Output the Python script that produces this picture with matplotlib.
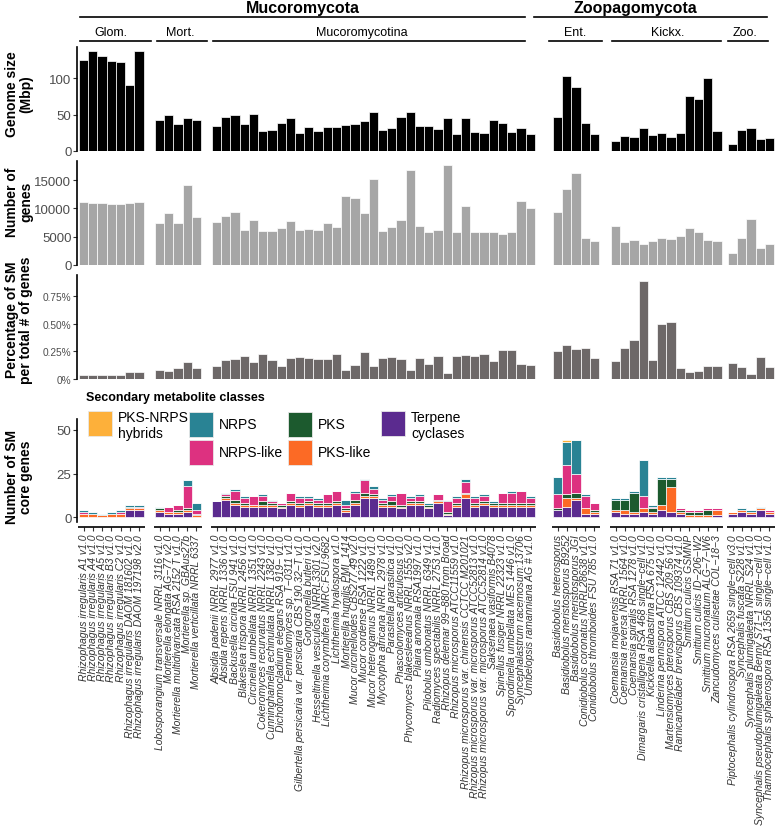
import matplotlib
matplotlib.use("Agg")
import matplotlib.pyplot as plt
from matplotlib.lines import Line2D
from matplotlib.patches import Rectangle
import numpy as np

plt.rcParams["font.family"] = ["Liberation Sans", "DejaVu Sans"]

# ---- data -------------------------------------------------------------
groups = ["Glom.", "Mort.", "Mucoromycotina", "Ent.", "Kickx.", "Zoo."]
group_sizes = [7, 5, 35, 5, 12, 5]
phyla = ["Mucoromycota", "Zoopagomycota"]

species = [
    # Glom.
    "Rhizophagus irregularis A1 v1.0", "Rhizophagus irregularis A4 v1.0",
    "Rhizophagus irregularis A5 v1.0", "Rhizophagus irregularis B3 v1.0",
    "Rhizophagus irregularis C2 v1.0", "Rhizophagus irregularis DAOM 181602 v1.0",
    "Rhizophagus irregularis DAOM 197198 v2.0",
    # Mort.
    "Lobosporangium transversale NRRL 3116 v1.0", "Mortierella elongata AG\u221277 v2.0",
    "Mortierella multidivaricata RSA 2152 T v1.0", "Mortierella sp. GBAus27b",
    "Mortierella verticillata NRRL 6337",
    # Mucoromycotina
    "Absidia padenii NRRL 2977 v1.0", "Absidia repens NRRL 1336 v1.0",
    "Backusella circina FSU 941 v1.0", "Blakeslea trispora NRRL 2456 v1.0",
    "Circinella umbellata NRRL 1351 v1.0", "Cokeromyces recurvatus NRRL 2243 v1.0",
    "Cunninghamella echinulata NRRL 1382 v1.0", "Dichotomocladium elegans RSA 919\u2212 v1.0",
    "Fennellomyces sp. T\u22120311 v1.0",
    "Gilbertella persicaria var. persicaria CBS 190.32\u2212T v1.0",
    "Gongronella butleri v1.0", "Hesseltinella vesiculosa NRRL3301 v2.0",
    "Lichtheimia corymbifera JMRC:FSU:9682", "Lichtheimia hyalospora v1.0",
    "Mortierella humilis PMI_1414", "Mucor circinelloides CBS277.49 v2.0",
    "Mucor cordense RSA 1222 v1.0", "Mucor heterogamus NRRL 1489 v1.0",
    "Mycotypha africana NRRL 2978 v1.0", "Parasitella parasitica v1.0",
    "Phascolomyces articulosus v1.0", "Phycomyces blakesleeanus NRRL 1555 v2.0",
    "Pilaira anomala RSA1997 v1.0", "Pilobolus umbonatus NRRL 6349 v1.0",
    "Radiomyces spectabilis NRRL 2753 v1.0", "Rhizopus delemar 99\u2212880 from Broad",
    "Rhizopus microsporus ATCC11559 v1.0",
    "Rhizopus microsporus var. chinensis CCTCC M201021",
    "Rhizopus microsporus var. microsporus ATCC52813 v1.0",
    "Rhizopus microsporus var. microsporus ATCC52814 v1.0",
    "Saksenaea vasiformis B4078", "Spinellus fusiger NRRL 22323 v1.0",
    "Sporodiniella umbellata MES 1446 v1.0", "Syncephalastrum racemosum:13706",
    "Umbelopsis ramanniana AG # v1.0",
    # Ent.
    "Basidiobolus heterosporus", "Basidiobolus meristosporus B9252",
    "Basidiobolus meristosporus JGI", "Conidiobolus coronatus NRRL28638 v1.0",
    "Conidiobolus thromboides FSU 785 v1.0",
    # Kickx.
    "Coemansia mojavensis RSA 71 v1.0", "Coemansia reversa NRRL 1564 v1.0",
    "Coemansia spiralis RSA 1278 v1.0", "Dimargaris cristalligena RSA 468 single\u2212cell v1.0",
    "Kickxella alabastrina RSA 675 v1.0", "Linderina pennispora ATCC 12442 v1.0",
    "Martensiomyces pterosporus CBS 209.56 v1.0", "Ramicandelaber brevisporus CBS 109374 v1.0",
    "Smittium culicis GSMNP", "Smittium culicis ID\u2212206\u2212W2",
    "Smittium mucronatum ALG\u22127\u2212W6", "Zancudomyces culisetae COL\u221218\u22123",
    # Zoo.
    "Piptocephalis cylindrospora RSA 2659 single\u2212cell v3.0",
    "Syncephalis fuscata S228 v1.0", "Syncephalis plumigaleata NRRL S24 v1.0",
    "Syncephalis pseudoplumigaleata Benny S71\u22121 single\u2212cell v1.0",
    "Thamnocephalis sphaerospora RSA 1356 single\u2212cell v1.0",
]

genome_mbp = [
    125, 138, 131, 124, 122, 91, 137,
    43, 50, 37, 45, 42,
    34, 47, 49, 37, 51, 28, 29, 39, 46, 25, 33, 27, 33, 33, 36, 37, 41, 54,
    29, 32, 47, 53, 35, 35, 30, 46, 24, 45, 26, 25, 42, 38, 26, 31, 23,
    47, 103, 88, 39, 24,
    14, 21, 19, 31, 22, 25, 19, 25, 76, 71, 101, 28,
    10, 29, 32, 16, 18,
]

n_genes = [
    11100, 10900, 10950, 10800, 10800, 10950, 11200,
    7400, 9150, 7500, 14150, 8550,
    7680, 8630, 9350, 6130, 7920, 5950, 5950, 6610, 7740, 6190, 6310, 6190,
    7380, 6790, 12140, 11850, 9170, 15180, 6010, 6790, 8010, 16730, 6960,
    5890, 6250, 17680, 5890, 10360, 5830, 5830, 5830, 5420, 5770, 11250, 10000,
    9400, 13450, 16310, 4820, 4290,
    6900, 4050, 4350, 3690, 4170, 4820, 4580, 5180, 6490, 5770, 4400, 4290,
    2080, 4700, 8210, 2920, 3630,
]

pct_sm = [
    0.040, 0.037, 0.034, 0.037, 0.040, 0.062, 0.062,
    0.083, 0.071, 0.096, 0.154, 0.096,
    0.117, 0.170, 0.180, 0.205, 0.158, 0.225, 0.172, 0.122, 0.188, 0.200,
    0.192, 0.182, 0.182, 0.225, 0.085, 0.130, 0.243, 0.122, 0.190, 0.195,
    0.182, 0.077, 0.194, 0.139, 0.210, 0.056, 0.208, 0.217, 0.210, 0.226,
    0.160, 0.262, 0.262, 0.139, 0.127,
    0.252, 0.307, 0.272, 0.276, 0.192,
    0.164, 0.276, 0.356, 0.890, 0.170, 0.495, 0.517, 0.099, 0.062, 0.071, 0.117, 0.117,
    0.145, 0.108, 0.046, 0.202, 0.108,
]

# SM core genes per class (stack order bottom -> top)
terpene = [
    0, 0, 0, 0, 0, 4, 4,
    3, 2, 2, 3, 0,
    9, 10, 7, 6, 6, 6, 6, 5, 7, 6, 7, 6, 6, 7, 3, 7, 11, 11, 6, 6, 5, 7, 7,
    5, 8, 1, 6, 11, 6, 7, 6, 6, 6, 6, 6,
    4, 6, 10, 2, 2,
    3, 2, 2, 3, 2, 4, 3, 2, 0, 0, 0, 1,
    2, 3, 2, 4, 2,
]
pks_like = [
    2, 2, 1, 2, 2, 1, 1,
    1, 1, 1, 1, 1,
    0, 1, 1, 1, 1, 1, 1, 1, 1, 1, 1, 1, 1, 1, 1, 1, 1, 1, 1, 1, 1, 1, 1,
    1, 1, 1, 1, 2, 1, 1, 1, 1, 1, 1, 1,
    0, 5, 1, 3, 1,
    1, 2, 1, 2, 1, 3, 14, 1, 1, 1, 1, 3,
    1, 1, 1, 1, 1,
]
pks = [
    0, 0, 0, 0, 0, 1, 0,
    1, 0, 1, 1, 1,
    0, 1, 2, 1, 0, 2, 1, 1, 1, 1, 1, 1, 1, 1, 1, 2, 2, 1, 1, 2, 1, 1, 1,
    1, 1, 1, 1, 1, 1, 1, 1, 1, 1, 1, 1,
    1, 2, 3, 0, 1,
    6, 6, 11, 0, 2, 15, 5, 1, 2, 2, 3, 0,
    0, 0, 0, 0, 0,
]
nrps_like = [
    1, 0, 0, 0, 1, 0, 1,
    0, 3, 3, 13, 2,
    0, 1, 5, 3, 5, 3, 1, 1, 5, 3, 2, 2, 5, 6, 2, 4, 7, 3, 2, 3, 7, 2, 3,
    0, 3, 6, 3, 6, 3, 3, 0, 6, 6, 7, 3,
    8, 17, 11, 7, 4,
    0, 0, 0, 7, 1, 0, 0, 1, 1, 1, 1, 1,
    0, 0, 0, 0, 1,
]
nrps = [
    1, 1, 1, 1, 1, 1, 1,
    1, 0, 0, 3, 4,
    0, 1, 1, 1, 0, 1, 1, 0, 0, 1, 1, 1, 0, 0, 3, 1, 1, 2, 1, 1, 0, 1, 1,
    1, 0, 1, 1, 2, 1, 1, 1, 0, 1, 0, 1,
    10, 13, 19, 1, 0,
    1, 1, 1, 21, 1, 1, 1, 0, 0, 0, 0, 0,
    0, 1, 1, 1, 0,
]
pks_nrps = [
    0, 0, 0, 0, 0, 0, 0,
    0, 0, 0, 0, 0,
    0, 0, 0, 0, 0, 0, 0, 0, 0, 0, 0, 0, 0, 0, 0, 0, 0, 0, 0, 0, 0, 0, 0,
    0, 0, 0, 0, 0, 0, 0, 0, 0, 0, 0, 0,
    0, 1, 0, 0, 0,
    0, 0, 0, 0, 0, 0, 0, 0, 0, 0, 0, 0,
    0, 0, 0, 0, 0,
]

sm_classes = ["Terpene\ncyclases", "PKS-like", "PKS", "NRPS-like", "NRPS", "PKS-NRPS\nhybrids"]
sm_values = [terpene, pks_like, pks, nrps_like, nrps, pks_nrps]
sm_colors = ["#5B2B8F", "#FC6A25", "#1C5A2E", "#DD3180", "#298394", "#FDB03A"]

# ---- layout -----------------------------------------------------------
W, H = 777, 829
fig = plt.figure(figsize=(W / 100, H / 100), dpi=100)

group_start = [0, 8.24, 14.43, 51.41, 57.70, 70.39]
xs = np.concatenate([s + np.arange(n) + 0.5 for s, n in zip(group_start, group_sizes)])
XLIM = (-0.22, 75.6)
AX_L, AX_R = 77, 776


def axes_px(top, bottom):
    return fig.add_axes([AX_L / W, 1 - bottom / H, (AX_R - AX_L) / W, (bottom - top) / H])


def style(ax):
    ax.set_xlim(*XLIM)
    for s in ("top", "right", "bottom"):
        ax.spines[s].set_visible(False)
    ax.spines["left"].set_linewidth(1.2)
    ax.tick_params(axis="y", length=3, width=0.8, color="#333333",
                   labelcolor="#4D4D4D", labelsize=9.5, pad=1)
    ax.tick_params(axis="x", bottom=False, labelbottom=False)
    ax.set_facecolor("none")


bar_kw = dict(width=1.0, edgecolor="white", linewidth=0.5)

ax1 = axes_px(48, 152)
ax1.bar(xs, genome_mbp, color="black", **bar_kw)
ax1.set_ylim(0, 143)
ax1.set_yticks([0, 50, 100])
style(ax1)

ax2 = axes_px(162, 266)
ax2.bar(xs, n_genes, color="#A6A6A6", **bar_kw)
ax2.set_ylim(0, 18400)
ax2.set_yticks([0, 5000, 10000, 15000])
style(ax2)

ax3 = axes_px(276, 380)
ax3.bar(xs, pct_sm, color="#6D6868", **bar_kw)
ax3.set_ylim(0, 0.94)
ax3.set_yticks([0, 0.25, 0.5, 0.75])
ax3.set_yticklabels(["0%", "0.25%", "0.50%", "0.75%"])
style(ax3)
ax3.tick_params(axis="y", labelsize=7.3)

ax4 = axes_px(420, 528)
bottom = np.zeros(len(xs))
for vals, col in zip(sm_values, sm_colors):
    ax4.bar(xs, vals, bottom=bottom, color=col, **bar_kw)
    bottom += np.array(vals)
ax4.set_ylim(-5.7, 56.3)
ax4.set_yticks([0, 25, 50])
style(ax4)
ax4.spines["left"].set_bounds(-2.9, 56.3)
ax4.tick_params(axis="x", bottom=True, labelbottom=True, length=3, width=0.8,
                color="#333333", pad=2)
ax4.set_xticks(xs)
ax4.set_xticklabels(species, rotation=90, fontsize=7.5, style="italic",
                    color="#333333", ha="center", va="top")
for s, n in zip(group_start, group_sizes):
    ax4.plot([s - 0.15, s + n + 0.15], [-5.7, -5.7], color="black", lw=1.2,
             clip_on=False, solid_capstyle="butt")

# ---- y labels ---------------------------------------------------------
ylabels = [("Genome size\n(Mbp)", 94), ("Number of\ngenes", 202),
           ("Percentage of SM\nper total # of genes", 320), ("Number of SM\ncore genes", 477)]
for txt, py in ylabels:
    fig.text(19 / W, 1 - py / H, txt, rotation=90, ha="center", va="center",
             fontsize=10, fontweight="bold", multialignment="center", linespacing=1.0)

# ---- header: phyla and groups ------------------------------------------
def hline(x0, x1, py, lw=1.2):
    fig.add_artist(Line2D([x0 / W, x1 / W], [1 - py / H, 1 - py / H], color="black", lw=lw))


phylum_spans = [(80, 525, 303), (534, 767, 635)]
for name, (x0, x1, xc) in zip(phyla, phylum_spans):
    hline(x0, x1, 18)
    fig.text(xc / W, 1 - 9 / H, name, ha="center", va="center", fontsize=11.5, fontweight="bold")

group_spans = [(80, 151, 111), (157, 207, 180), (213, 525, 362),
               (549, 602, 575), (612, 721, 668), (728, 768, 745)]
for name, (x0, x1, xc) in zip(groups, group_spans):
    hline(x0, x1, 42)
    fig.text(xc / W, 1 - 33 / H, name, ha="center", va="center", fontsize=9)

# ---- legend -------------------------------------------------------------
fig.text(86 / W, 1 - 398 / H, "Secondary metabolite classes", ha="left", va="center",
         fontsize=9, fontweight="bold")
legend_items = [  # (class index, key x, key y top)
    (5, 88, 412), (4, 189, 413), (3, 189, 441), (2, 288, 413), (1, 288, 441), (0, 381, 412),
]
for idx, kx, ky in legend_items:
    fig.add_artist(Rectangle((kx / W, 1 - (ky + 25) / H), 24 / W, 25 / H,
                             facecolor=sm_colors[idx], edgecolor="#E8E8E8", lw=0.6,
                             transform=fig.transFigure))
    label = sm_classes[idx]
    ty = ky + 12.5 if "\n" not in label else ky + 14
    fig.text((kx + 30) / W, 1 - ty / H, label, ha="left", va="center", fontsize=10,
             linespacing=1.15)

fig.savefig("out.png", dpi=100)
